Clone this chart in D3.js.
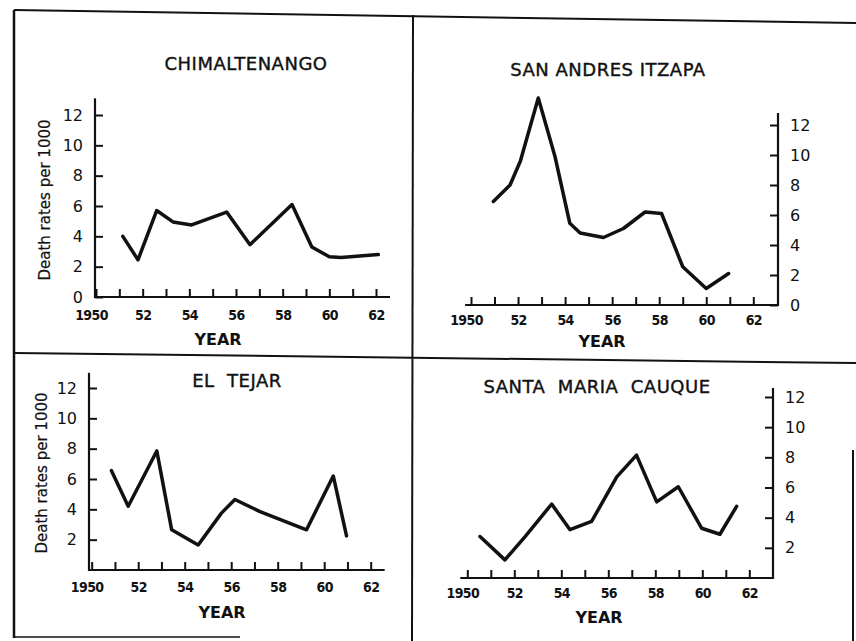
<!DOCTYPE html>
<html>
<head>
<meta charset="utf-8">
<script src="https://cdn.jsdelivr.net/npm/d3@7"></script>
<style>
  body { margin: 0; background: #fff; }
  svg { display: block; }
  text { font-family: "DejaVu Sans", sans-serif; fill: #111; }
</style>
</head>
<body>
<div id="chart"></div>
<script>
// death rates per 1000 (year given as 19xx fraction)
var chimYears = [1951.15, 1951.8, 1952.6, 1953.3, 1954.1, 1955.6, 1956.6, 1958.4, 1959.25, 1960.0, 1960.5, 1962.1]
var chimRates = [4.0, 2.45, 5.7, 4.95, 4.75, 5.6, 3.45, 6.1, 3.3, 2.65, 2.6, 2.8]

var sanAndresYears = [1950.95, 1951.66, 1952.1, 1952.86, 1953.57, 1954.2, 1954.64, 1955.63, 1956.48, 1957.4, 1958.1, 1959.0, 1960.0, 1960.95]
var sanAndresRates = [6.9, 8.0, 9.6, 13.8, 9.9, 5.45, 4.8, 4.5, 5.1, 6.2, 6.1, 2.55, 1.1, 2.1]

var tejarYears = [1950.85, 1951.57, 1952.8, 1953.44, 1954.58, 1955.58, 1956.16, 1957.24, 1959.24, 1960.39, 1960.96]
var tejarRates = [6.55, 4.2, 7.85, 2.65, 1.65, 3.75, 4.65, 3.85, 2.65, 6.2, 2.25]

var cauqueYears = [1950.54, 1951.6, 1952.46, 1953.59, 1954.37, 1955.29, 1956.36, 1957.2, 1958.06, 1958.98, 1959.97, 1960.75, 1961.46]
var cauqueRates = [2.75, 1.2, 2.75, 4.9, 3.2, 3.75, 6.7, 8.15, 5.05, 6.05, 3.3, 2.9, 4.75]

// axis ticks
var yearTicks = d3.range(1950, 1963)
var rateTicksFull = [0, 2, 4, 6, 8, 10, 12]
var rateTicksNoZero = [2, 4, 6, 8, 10, 12]

var width = 856, height = 641

var svg = d3.select("#chart").append("svg")
    .attr("width", width)
    .attr("height", height)

// panel frame (scanned page, slightly tilted)
var frame = svg.append("g").attr("stroke", "#111").attr("fill", "none")
frame.append("line").attr("x1", 14).attr("y1", 10).attr("x2", 856).attr("y2", 23).attr("stroke-width", 2)
frame.append("line").attr("x1", 14).attr("y1", 10).attr("x2", 14).attr("y2", 638).attr("stroke-width", 2.5)
frame.append("line").attr("x1", 413).attr("y1", 15).attr("x2", 412).attr("y2", 641).attr("stroke-width", 2)
frame.append("line").attr("x1", 14).attr("y1", 353).attr("x2", 856).attr("y2", 363).attr("stroke-width", 2)
frame.append("line").attr("x1", 14).attr("y1", 637).attr("x2", 240).attr("y2", 637).attr("stroke-width", 1.5)
frame.append("line").attr("x1", 853).attr("y1", 450).attr("x2", 853).attr("y2", 641).attr("stroke-width", 2)

var panels = [
    {title: "CHIMALTENANGO", years: chimYears, rates: chimRates,
     xr: [96, 376], yr: [297, 115], side: "left", axisX: 95, xEnd: 1962.6, yTop: 13.1,
     rateTicks: rateTicksFull, titleX: 246, titleY: 70, labelY: 320, yearX: 218, yearY: 345,
     ylabelX: 50, ylabelY: 200},
    {title: "SAN ANDRES ITZAPA", years: sanAndresYears, rates: sanAndresRates,
     xr: [471, 753.3], yr: [305, 125], side: "right", axisX: 778, xStart: 1949.75, yTop: 12.8,
     rateTicks: rateTicksFull, titleX: 608, titleY: 76, labelY: 325, yearX: 602, yearY: 347},
    {title: "EL  TEJAR", years: tejarYears, rates: tejarRates,
     xr: [91.7, 370.7], yr: [570, 388], side: "left", axisX: 89, xEnd: 1962.6, yTop: 13,
     rateTicks: rateTicksNoZero, titleX: 237, titleY: 387, labelY: 592, yearX: 222, yearY: 618,
     ylabelX: 47, ylabelY: 473},
    {title: "SANTA  MARIA  CAUQUE", years: cauqueYears, rates: cauqueRates,
     xr: [467.3, 749.3], yr: [578, 397], side: "right", axisX: 773, xStart: 1949.7, yTop: 12.6,
     rateTicks: rateTicksNoZero, titleX: 597, titleY: 393, labelY: 598, yearX: 599, yearY: 623}
]

panels.forEach(drawPanel)

function drawPanel(p) {
    var x = d3.scaleLinear().domain([1950, 1962]).range(p.xr)
    var y = d3.scaleLinear().domain([0, 12]).range(p.yr)
    var g = svg.append("g")

    // title
    g.append("text")
        .attr("x", p.titleX)
        .attr("y", p.titleY)
        .attr("text-anchor", "middle")
        .style("font-size", "18px")
        .style("letter-spacing", "0.5px")
        .style("white-space", "pre")
        .style("stroke", "#111")
        .style("stroke-width", "0.4px")
        .text(p.title)

    // axis lines
    var x0 = p.side == "left" ? p.axisX : x(p.xStart)
    var x1 = p.side == "left" ? x(p.xEnd) : p.axisX
    g.append("line")
        .attr("x1", x0).attr("x2", x1)
        .attr("y1", y(0)).attr("y2", y(0))
        .attr("stroke", "#111").attr("stroke-width", 2.2)
    g.append("line")
        .attr("x1", p.axisX).attr("x2", p.axisX)
        .attr("y1", y(0) + 1).attr("y2", y(p.yTop))
        .attr("stroke", "#111").attr("stroke-width", 2.2)

    // year axis, ticks point up into the plot
    var xAxis = d3.axisBottom(x)
        .tickValues(yearTicks)
        .tickSize(-8)
        .tickSizeOuter(0)
        .tickPadding(10)
        .tickFormat(function(d) {
            if (d == 1950) return "1950"
            if (d % 2 == 0) return String(d).slice(2)
            return ""
        })
    var xg = g.append("g")
        .attr("transform", "translate(0," + y(0) + ")")
        .call(xAxis)
    xg.select(".domain").remove()
    xg.selectAll(".tick line").attr("stroke", "#111").attr("stroke-width", 2)
    xg.selectAll(".tick text")
        .attr("y", null)
        .attr("dy", null)
        .attr("transform", "translate(0," + (p.labelY - y(0)) + ")")
        .style("font-family", "'DejaVu Sans Condensed', 'DejaVu Sans', sans-serif")
        .style("font-weight", "bold")
        .style("font-size", "14px")
        .style("letter-spacing", "-0.6px")
        .style("fill", "#111")
    xg.selectAll(".tick text").filter(function(d) { return d == 1950 })
        .attr("dx", -5)

    // rate axis, ticks point inward
    var yAxis = (p.side == "left" ? d3.axisLeft(y) : d3.axisRight(y))
        .tickValues(p.rateTicks)
        .tickSize(-8)
        .tickSizeOuter(0)
        .tickPadding(12)
    var yg = g.append("g")
        .attr("transform", "translate(" + p.axisX + ",0)")
        .call(yAxis)
    yg.select(".domain").remove()
    yg.selectAll(".tick line").attr("stroke", "#111").attr("stroke-width", 2)
    yg.selectAll(".tick text")
        .style("font-family", "'DejaVu Sans', sans-serif")
        .style("font-size", "16px")
        .style("fill", "#111")

    // axis titles
    g.append("text")
        .attr("x", p.yearX)
        .attr("y", p.yearY)
        .attr("text-anchor", "middle")
        .style("font-size", "16px")
        .style("font-weight", "bold")
        .text("YEAR")

    if (p.ylabelX) {
        g.append("text")
            .attr("transform", "translate(" + p.ylabelX + "," + p.ylabelY + ") rotate(-90)")
            .attr("text-anchor", "middle")
            .style("font-size", "15px")
            .style("stroke", "#111")
            .style("stroke-width", "0.2px")
            .text("Death rates per 1000")
    }

    // the series
    var pts = p.years.map(function(yr, i) { return {year: yr, rate: p.rates[i]} })
    var line = d3.line()
        .x(function(d) { return x(d.year) })
        .y(function(d) { return y(d.rate) })
    g.append("path")
        .datum(pts)
        .attr("d", line)
        .attr("fill", "none")
        .attr("stroke", "#111")
        .attr("stroke-width", 3.5)
        .attr("stroke-linejoin", "round")
        .attr("stroke-linecap", "round")
}
</script>
</body>
</html>
